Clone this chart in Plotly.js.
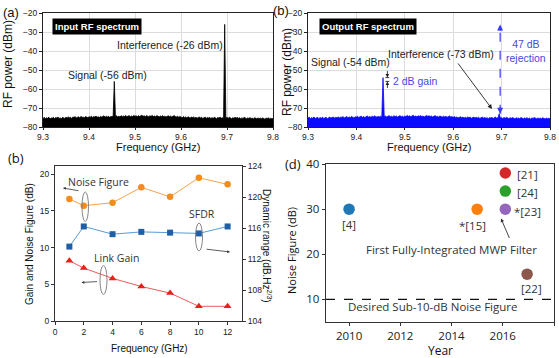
<!DOCTYPE html>
<html><head><meta charset="utf-8">
<script src="https://cdn.plot.ly/plotly-3.0.1.min.js"></script>
<style>html,body{margin:0;padding:0;background:#fff}#chart{width:559px;height:358px}</style>
</head><body><div id="chart"></div>
<script>
// ---------- DATA ----------
// (a)/(b) spectra: start frequency and step (GHz), power values (dBm)
const specStart = 9.3;
const specStep = 0.0025;
const inputPower = [
-75.6,-74.9,-75.8,-75.1,-75.5,-74.8,-75.9,-75.2,-75.4,-74.9,
-75.7,-75.0,-75.3,-74.7,-75.6,-75.1,-75.8,-74.9,-75.2,-75.5,
-74.8,-75.4,-74.6,-75.2,-74.9,-75.5,-74.7,-75.0,-74.5,-75.3,
-74.9,-74.6,-75.2,-74.4,-75.0,-74.7,-75.3,-74.5,-74.8,-75.1,
-74.6,-74.9,-74.3,-75.0,-74.5,-74.8,-74.2,-74.9,-74.6,-75.0,
-74.4,-74.8,-74.5,-74.1,-74.9,-74.3,-74.7,-74.4,-74.9,-74.5,
-74.6,-74.2,-56.0,-74.5,-74.1,-74.7,-74.3,-74.8,-74.0,-74.6,
-74.2,-74.5,-73.9,-74.6,-74.3,-74.0,-74.7,-74.2,-74.5,-73.9,
-74.4,-74.1,-74.6,-74.0,-74.5,-74.2,-73.8,-74.4,-74.1,-74.6,
-74.0,-74.3,-74.6,-74.1,-74.4,-73.9,-74.5,-74.2,-74.6,-74.0,
-74.3,-74.7,-74.2,-74.5,-74.0,-74.6,-74.3,-74.8,-74.4,-74.1,
-74.6,-74.2,-74.8,-74.4,-74.0,-74.5,-74.7,-74.3,-74.9,-74.5,
-74.8,-75.1,-74.5,-75.0,-74.7,-75.2,-74.6,-74.9,-75.3,-74.8,
-75.0,-74.7,-75.3,-74.9,-75.4,-75.0,-74.8,-75.2,-74.9,-75.5,
-75.1,-74.8,-75.4,-75.0,-75.3,-74.9,-75.5,-75.1,-75.4,-74.9,
-75.2,-75.6,-75.0,-75.3,-74.8,-75.4,-75.1,-75.5,-26.0,-75.2,
-75.0,-75.4,-74.9,-75.3,-75.6,-75.1,-75.4,-74.9,-75.3,-75.0,
-75.4,-75.1,-75.6,-75.2,-75.5,-74.9,-75.3,-75.7,-75.2,-75.5,
-75.0,-75.6,-75.3,-75.8,-75.1,-75.4,-75.7,-75.2,-75.6,-75.3,
-75.7,-75.2,-75.5,-75.9,-75.3,-75.6,-75.1,-75.8,-75.4,-75.7,
-75.5];
const outputPower = [
-75.3,-74.8,-75.6,-75.0,-75.4,-74.7,-75.5,-75.1,-74.9,-75.6,
-75.0,-75.4,-74.8,-75.5,-75.1,-74.9,-75.6,-75.2,-74.8,-75.3,
-75.1,-74.7,-75.4,-74.9,-75.2,-74.6,-75.3,-74.8,-75.0,-74.5,
-75.2,-74.8,-74.5,-75.1,-74.7,-75.0,-74.4,-74.9,-75.2,-74.6,
-74.8,-74.4,-75.0,-74.6,-74.3,-74.9,-74.5,-75.0,-74.7,-74.2,
-74.8,-74.5,-74.9,-74.3,-74.7,-74.1,-74.6,-74.8,-74.4,-74.7,
-74.3,-74.8,-54.0,-74.5,-74.2,-74.7,-74.4,-74.0,-74.6,-74.3,
-74.7,-74.1,-74.5,-74.2,-74.8,-74.4,-74.0,-74.6,-74.3,-74.7,
-74.2,-74.5,-73.9,-74.4,-74.1,-74.6,-74.3,-73.8,-74.5,-74.2,
-74.6,-74.1,-74.4,-74.0,-74.5,-74.2,-74.7,-74.3,-73.9,-74.4,
-74.1,-74.5,-74.2,-74.7,-74.3,-74.0,-74.6,-74.4,-74.8,-74.2,
-74.5,-74.8,-74.3,-74.7,-74.4,-74.9,-74.5,-74.2,-74.7,-74.6,
-74.9,-74.5,-75.0,-74.7,-75.2,-74.8,-74.6,-75.1,-74.8,-75.3,
-74.9,-75.2,-74.7,-75.1,-74.8,-75.4,-75.0,-74.8,-75.3,-74.9,
-75.2,-74.9,-75.5,-75.1,-74.8,-75.3,-75.0,-75.4,-75.1,-75.6,
-75.0,-75.3,-74.9,-75.5,-75.2,-74.8,-75.4,-75.1,-73.0,-75.3,
-75.1,-75.5,-75.0,-75.4,-74.9,-75.2,-75.6,-75.1,-75.4,-75.0,
-75.3,-75.7,-75.1,-75.5,-75.2,-75.6,-75.0,-75.4,-75.7,-75.2,
-75.5,-75.1,-75.6,-75.3,-75.8,-75.2,-75.5,-75.0,-75.4,-75.7,
-75.2,-75.6,-75.3,-75.7,-75.1,-75.5,-75.8,-75.3,-75.6,-75.4,
-75.6];
const specFloor = -80;
const specEnd = 9.8;
const signalFreq = 9.455, interfFreq = 9.695;
const inSignal = -56, inInterf = -26, outSignal = -54, outInterf = -73;

// (b) link performance
const linkFreq = [1, 2, 4, 6, 8, 10, 12];
const noiseFigure = [16.6, 15.7, 16.1, 18.2, 16.9, 19.5, 18.6];
const sfdr = [113.6, 116.2, 115.2, 115.5, 115.4, 115.3, 116.2];
const linkGain = [8.2, 7.2, 5.8, 4.7, 3.8, 2.0, 2.0];

// (d) comparison
const refLabels = ['[4]', '*[15]', '[21]', '[24]', '*[23]', '[22]'];
const refYear = [2010, 2015, 2016.1, 2016.1, 2016.1, 2016.95];
const refNF = [30, 30, 38, 34, 30, 15.6];
const refColors = ['#1f77b4', '#ff7f0e', '#d62728', '#2ca02c', '#9467bd', '#8c564b'];
const nfTarget = 10;

// ---------- LAYOUT HELPERS ----------
const W = 559, H = 358;
const px = v => v / W;
const py = v => 1 - v / H;
const dom = (a, b) => [px(a), px(b)];
const domY = (top, bot) => [py(bot), py(top)];

const ARIAL = 'Liberation Sans, Arial, sans-serif';
const NARROW = 'Liberation Sans Narrow, Liberation Sans, Arial, sans-serif';
const OPEN = 'Open Sans, sans-serif';

const traces = [
  {x: [specStart, specEnd], y: [specFloor, specFloor], xaxis: 'x', yaxis: 'y', mode: 'lines',
   line: {width: 0, color: '#000'}, showlegend: false, hoverinfo: 'skip'},
  {x0: specStart, dx: specStep, y: inputPower, xaxis: 'x', yaxis: 'y', mode: 'lines',
   fill: 'tonexty', fillcolor: '#000', line: {color: '#000', width: 0.8}, showlegend: false},
  {x: [specStart, specEnd], y: [specFloor, specFloor], xaxis: 'x2', yaxis: 'y2', mode: 'lines',
   line: {width: 0, color: '#00f'}, showlegend: false, hoverinfo: 'skip'},
  {x0: specStart, dx: specStep, y: outputPower, xaxis: 'x2', yaxis: 'y2', mode: 'lines',
   fill: 'tonexty', fillcolor: '#0a0aff', line: {color: '#0a0aff', width: 0.8}, showlegend: false},
  {x: linkFreq, y: noiseFigure, xaxis: 'x3', yaxis: 'y3', mode: 'lines+markers', name: 'Noise Figure',
   line: {color: '#f5a24e', width: 1}, marker: {symbol: 'circle', size: 6.5, color: '#f28c1a'}, showlegend: false},
  {x: linkFreq, y: sfdr, xaxis: 'x3', yaxis: 'y4', mode: 'lines+markers', name: 'SFDR',
   line: {color: '#5b9bd5', width: 1}, marker: {symbol: 'square', size: 6, color: '#1f5fa8'}, showlegend: false},
  {x: linkFreq, y: linkGain, xaxis: 'x3', yaxis: 'y3', mode: 'lines+markers', name: 'Link Gain',
   line: {color: '#f05a5a', width: 1}, marker: {symbol: 'triangle-up', size: 7, color: '#e8201a'}, showlegend: false},
  {x: refYear, y: refNF, xaxis: 'x4', yaxis: 'y5', mode: 'markers', text: refLabels,
   marker: {size: 11.5, color: refColors}, showlegend: false}
];

const specAxisX = (domain, anchor) => ({
  domain: domain, anchor: anchor, range: [specStart, specEnd], tick0: specStart, dtick: 0.1, tickformat: '.1f',
  ticks: 'outside', ticklen: 2, tickcolor: '#222', showline: true, mirror: true, linecolor: '#222', linewidth: 1,
  showgrid: true, gridcolor: '#dcdcdc', zeroline: false, tickfont: {family: NARROW, size: 8.5, color: '#222'}
});
const specAxisY = (domain, anchor) => ({
  domain: domain, anchor: anchor, range: [specFloor, -20], dtick: 10,
  ticks: 'outside', ticklen: 3, tickcolor: '#222', showline: true, mirror: true, linecolor: '#222', linewidth: 1,
  showgrid: true, gridcolor: '#dcdcdc', zeroline: false, tickfont: {family: NARROW, size: 8.5, color: '#222'}
});

const topY = domY(13, 127);
const botB = domY(166, 321);
const botD = domY(164, 322);

const ann = [];
const A = o => ann.push(Object.assign({xref: 'paper', yref: 'paper', showarrow: false, xanchor: 'center', yanchor: 'middle'}, o));

// panel labels
A({text: '(a)', x: px(11), y: py(13), font: {family: ARIAL, size: 13, color: '#111'}});
A({text: '(b)', x: px(281), y: py(10), font: {family: ARIAL, size: 13, color: '#111'}});
A({text: '(b)', x: px(16), y: py(158), font: {family: OPEN, size: 13, color: '#111'}});
A({text: '(d)', x: px(293), y: py(164), font: {family: OPEN, size: 13, color: '#111'}});

// axis titles (placed as text)
A({text: 'RF power (dBm)', x: px(8), y: py(64), textangle: -90, font: {family: ARIAL, size: 12, color: '#111'}});
A({text: 'RF power (dBm)', x: px(287), y: py(72), textangle: -90, font: {family: ARIAL, size: 12, color: '#111'}});
A({text: 'Frequency (GHz)', x: px(158), y: py(147), font: {family: ARIAL, size: 11, color: '#111'}});
A({text: 'Frequency (GHz)', x: px(429), y: py(147), font: {family: ARIAL, size: 11, color: '#111'}});
A({text: 'Gain and Noise Figure (dB)', x: px(30), y: py(244), textangle: -90, font: {family: ARIAL, size: 10, color: '#111'}});
A({text: 'Dynamic range (dB.Hz<sup>2/3</sup>)', x: px(267), y: py(246), textangle: 90,
   font: {family: ARIAL, size: 10, color: '#111'}});
A({text: 'Frequency (GHz)', x: px(149), y: py(348), font: {family: ARIAL, size: 10, color: '#111'}});
A({text: 'Noise Figure (dB)', x: px(291), y: py(251), textangle: -90, font: {family: OPEN, size: 11, color: '#111'}});
A({text: 'Year', x: px(440), y: py(350), font: {family: OPEN, size: 12, color: '#111'}});

// top panels
A({text: '<b>Input RF spectrum</b>', x: px(96.5), y: py(26.5), bgcolor: '#000', borderpad: 2,
   font: {family: ARIAL, size: 9.5, color: '#fff'}});
A({text: '<b>Output RF spectrum</b>', x: px(367.5), y: py(26.5), bgcolor: '#000', borderpad: 2,
   font: {family: ARIAL, size: 9.5, color: '#fff'}});
A({text: 'Signal (-56 dBm)', x: px(107), y: py(75), font: {family: ARIAL, size: 10.5, color: '#222'}});
A({text: 'Interference (-26 dBm)', x: px(170), y: py(45), font: {family: ARIAL, size: 10.5, color: '#222'}});
A({text: 'Signal (-54 dBm)', x: px(350), y: py(62), font: {family: ARIAL, size: 10.5, color: '#222'}});
A({text: 'Interference (-73 dBm)', x: px(441), y: py(54), font: {family: ARIAL, size: 10.5, color: '#222'}});
A({text: '2 dB gain', x: px(415), y: py(81), font: {family: ARIAL, size: 10.5, color: '#4848e0'}});
A({text: '47 dB<br>rejection', x: px(526), y: py(51), font: {family: ARIAL, size: 10.5, color: '#4848e0'}});
ann.push({xref: 'paper', yref: 'paper', x: px(492), y: py(109), text: '', showarrow: true, ax: -35, ay: -47,
  arrowhead: 2, arrowsize: 1, arrowwidth: 0.9, arrowcolor: '#222'});
ann.push({xref: 'x2', yref: 'y2', x: interfFreq + 0.002, y: inInterf, text: '', showarrow: true, ax: 0, ay: 8,
  arrowhead: 2, arrowsize: 1, arrowwidth: 1.2, arrowcolor: '#3a3aff'});
ann.push({xref: 'x2', yref: 'y2', x: interfFreq + 0.002, y: outInterf, text: '', showarrow: true, ax: 0, ay: -8,
  arrowhead: 2, arrowsize: 1, arrowwidth: 1.2, arrowcolor: '#3a3aff'});
ann.push({xref: 'x2', yref: 'y2', x: signalFreq + 0.009, y: outSignal, text: '', showarrow: true, ax: 0, ay: -8,
  arrowhead: 2, arrowsize: 0.8, arrowwidth: 0.9, arrowcolor: '#222'});
ann.push({xref: 'x2', yref: 'y2', x: signalFreq + 0.009, y: inSignal, text: '', showarrow: true, ax: 0, ay: 8,
  arrowhead: 2, arrowsize: 0.8, arrowwidth: 0.9, arrowcolor: '#222'});

// (b) bottom
A({text: 'Noise Figure', x: px(98), y: py(182), font: {family: OPEN, size: 10.5, color: '#333'}});
A({text: 'SFDR', x: px(202), y: py(214), font: {family: OPEN, size: 10.5, color: '#333'}});
A({text: 'Link Gain', x: px(116), y: py(258), font: {family: OPEN, size: 10.5, color: '#333'}});
ann.push({xref: 'paper', yref: 'paper', x: px(63), y: py(188), text: '', showarrow: true, ax: 17, ay: 3,
  arrowhead: 2, arrowsize: 0.7, arrowwidth: 0.8, arrowcolor: '#333'});
ann.push({xref: 'paper', yref: 'paper', x: px(230), y: py(252), text: '', showarrow: true, ax: -25, ay: -3,
  arrowhead: 2, arrowsize: 0.7, arrowwidth: 0.8, arrowcolor: '#333'});
ann.push({xref: 'paper', yref: 'paper', x: px(81.5), y: py(282.5), text: '', showarrow: true, ax: 17, ay: -1,
  arrowhead: 2, arrowsize: 0.7, arrowwidth: 0.8, arrowcolor: '#333'});

// (d)
const labShift = [[0, -15], [-5, -16], [22, -1], [22, -1.5], [22, -2], [4, -14]];
refLabels.forEach((t, i) => ann.push({xref: 'x4', yref: 'y5', x: refYear[i], y: refNF[i], text: t, showarrow: false,
  xshift: labShift[i][0], yshift: labShift[i][1], xanchor: 'center', yanchor: 'middle',
  font: {family: OPEN, size: 11.5, color: '#333'}}));
A({text: 'First Fully-Integrated MWP Filter', x: px(451), y: py(249.5), font: {family: OPEN, size: 11.5, color: '#333'}});
A({text: 'Desired Sub-10-dB Noise Figure', x: px(432), y: py(306), font: {family: OPEN, size: 11.5, color: '#333'}});
ann.push({xref: 'paper', yref: 'paper', x: px(501), y: py(218.5), text: '', showarrow: true, ax: 9, ay: 21,
  arrowhead: 2, arrowsize: 0.8, arrowwidth: 0.9, arrowcolor: '#333'});

const shapes = [
  {type: 'line', xref: 'x2', yref: 'y2', x0: interfFreq + 0.002, x1: interfFreq + 0.002, y0: outInterf, y1: inInterf,
   line: {color: '#3a3aff', width: 1.2, dash: 'dash'}},
  {type: 'line', xref: 'x2', yref: 'y2', x0: signalFreq + 0.005, x1: signalFreq + 0.013, y0: outSignal, y1: outSignal,
   line: {color: '#222', width: 0.9}},
  {type: 'line', xref: 'x2', yref: 'y2', x0: signalFreq + 0.005, x1: signalFreq + 0.013, y0: inSignal, y1: inSignal,
   line: {color: '#222', width: 0.9}},
  {type: 'circle', xref: 'paper', yref: 'paper', x0: px(82), x1: px(88.5), y0: py(221.5), y1: py(192), line: {color: '#777', width: 0.9}},
  {type: 'circle', xref: 'paper', yref: 'paper', x0: px(195.5), x1: px(202.5), y0: py(251), y1: py(223), line: {color: '#777', width: 0.9}},
  {type: 'circle', xref: 'paper', yref: 'paper', x0: px(100), x1: px(107), y0: py(294.5), y1: py(265.5), line: {color: '#777', width: 0.9}},
  {type: 'line', xref: 'x4 domain', yref: 'y5', x0: 0, x1: 1, y0: nfTarget, y1: nfTarget,
   line: {color: '#111', width: 1.3, dash: 'dash'}}
];

const layout = {
  width: W, height: H, margin: {l: 0, r: 0, t: 0, b: 0}, paper_bgcolor: '#fff', plot_bgcolor: '#fff',
  font: {family: ARIAL, color: '#222'}, showlegend: false, hovermode: false,
  xaxis: specAxisX(dom(43, 273), 'y'),
  yaxis: specAxisY(topY, 'x'),
  xaxis2: specAxisX(dom(308, 550), 'y2'),
  yaxis2: specAxisY(topY, 'x2'),
  xaxis3: {domain: dom(55, 242), anchor: 'y3', range: [0, 13], dtick: 2, tick0: 0,
    ticks: 'outside', ticklen: 3, tickcolor: '#333', showline: true, mirror: true, linecolor: '#333', linewidth: 1,
    showgrid: false, zeroline: false, tickfont: {family: ARIAL, size: 8.5, color: '#222'}},
  yaxis3: {domain: botB, anchor: 'x3', range: [0, 21.1], dtick: 5, tick0: 0,
    ticks: 'outside', ticklen: 3, tickcolor: '#333', showline: true, mirror: false, linecolor: '#333', linewidth: 1,
    showgrid: false, zeroline: false, tickfont: {family: ARIAL, size: 8.5, color: '#222'}},
  yaxis4: {domain: botB, anchor: 'x3', overlaying: 'y3', side: 'right', range: [104, 124], dtick: 4, tick0: 104,
    ticks: 'outside', ticklen: 3, tickcolor: '#333', showline: true, linecolor: '#333', linewidth: 1,
    showgrid: false, zeroline: false, tickfont: {family: ARIAL, size: 8.5, color: '#222'}},
  xaxis4: {domain: dom(326, 554), anchor: 'y5', range: [2009.1, 2018], dtick: 2, tick0: 2010,
    ticks: 'outside', ticklen: 3, tickcolor: '#333', showline: true, mirror: true, linecolor: '#333', linewidth: 1.3,
    showgrid: false, zeroline: false, tickfont: {family: OPEN, size: 11.5, color: '#222'}},
  yaxis5: {domain: botD, anchor: 'x4', range: [5, 40], tickvals: [10, 20, 30, 40],
    ticks: 'outside', ticklen: 3, tickcolor: '#333', showline: true, mirror: true, linecolor: '#333', linewidth: 1.3,
    showgrid: false, zeroline: false, tickfont: {family: OPEN, size: 11.5, color: '#222'}},
  annotations: ann,
  shapes: shapes
};

Plotly.newPlot('chart', traces, layout, {displayModeBar: false, staticPlot: true});
</script>
</body></html>
